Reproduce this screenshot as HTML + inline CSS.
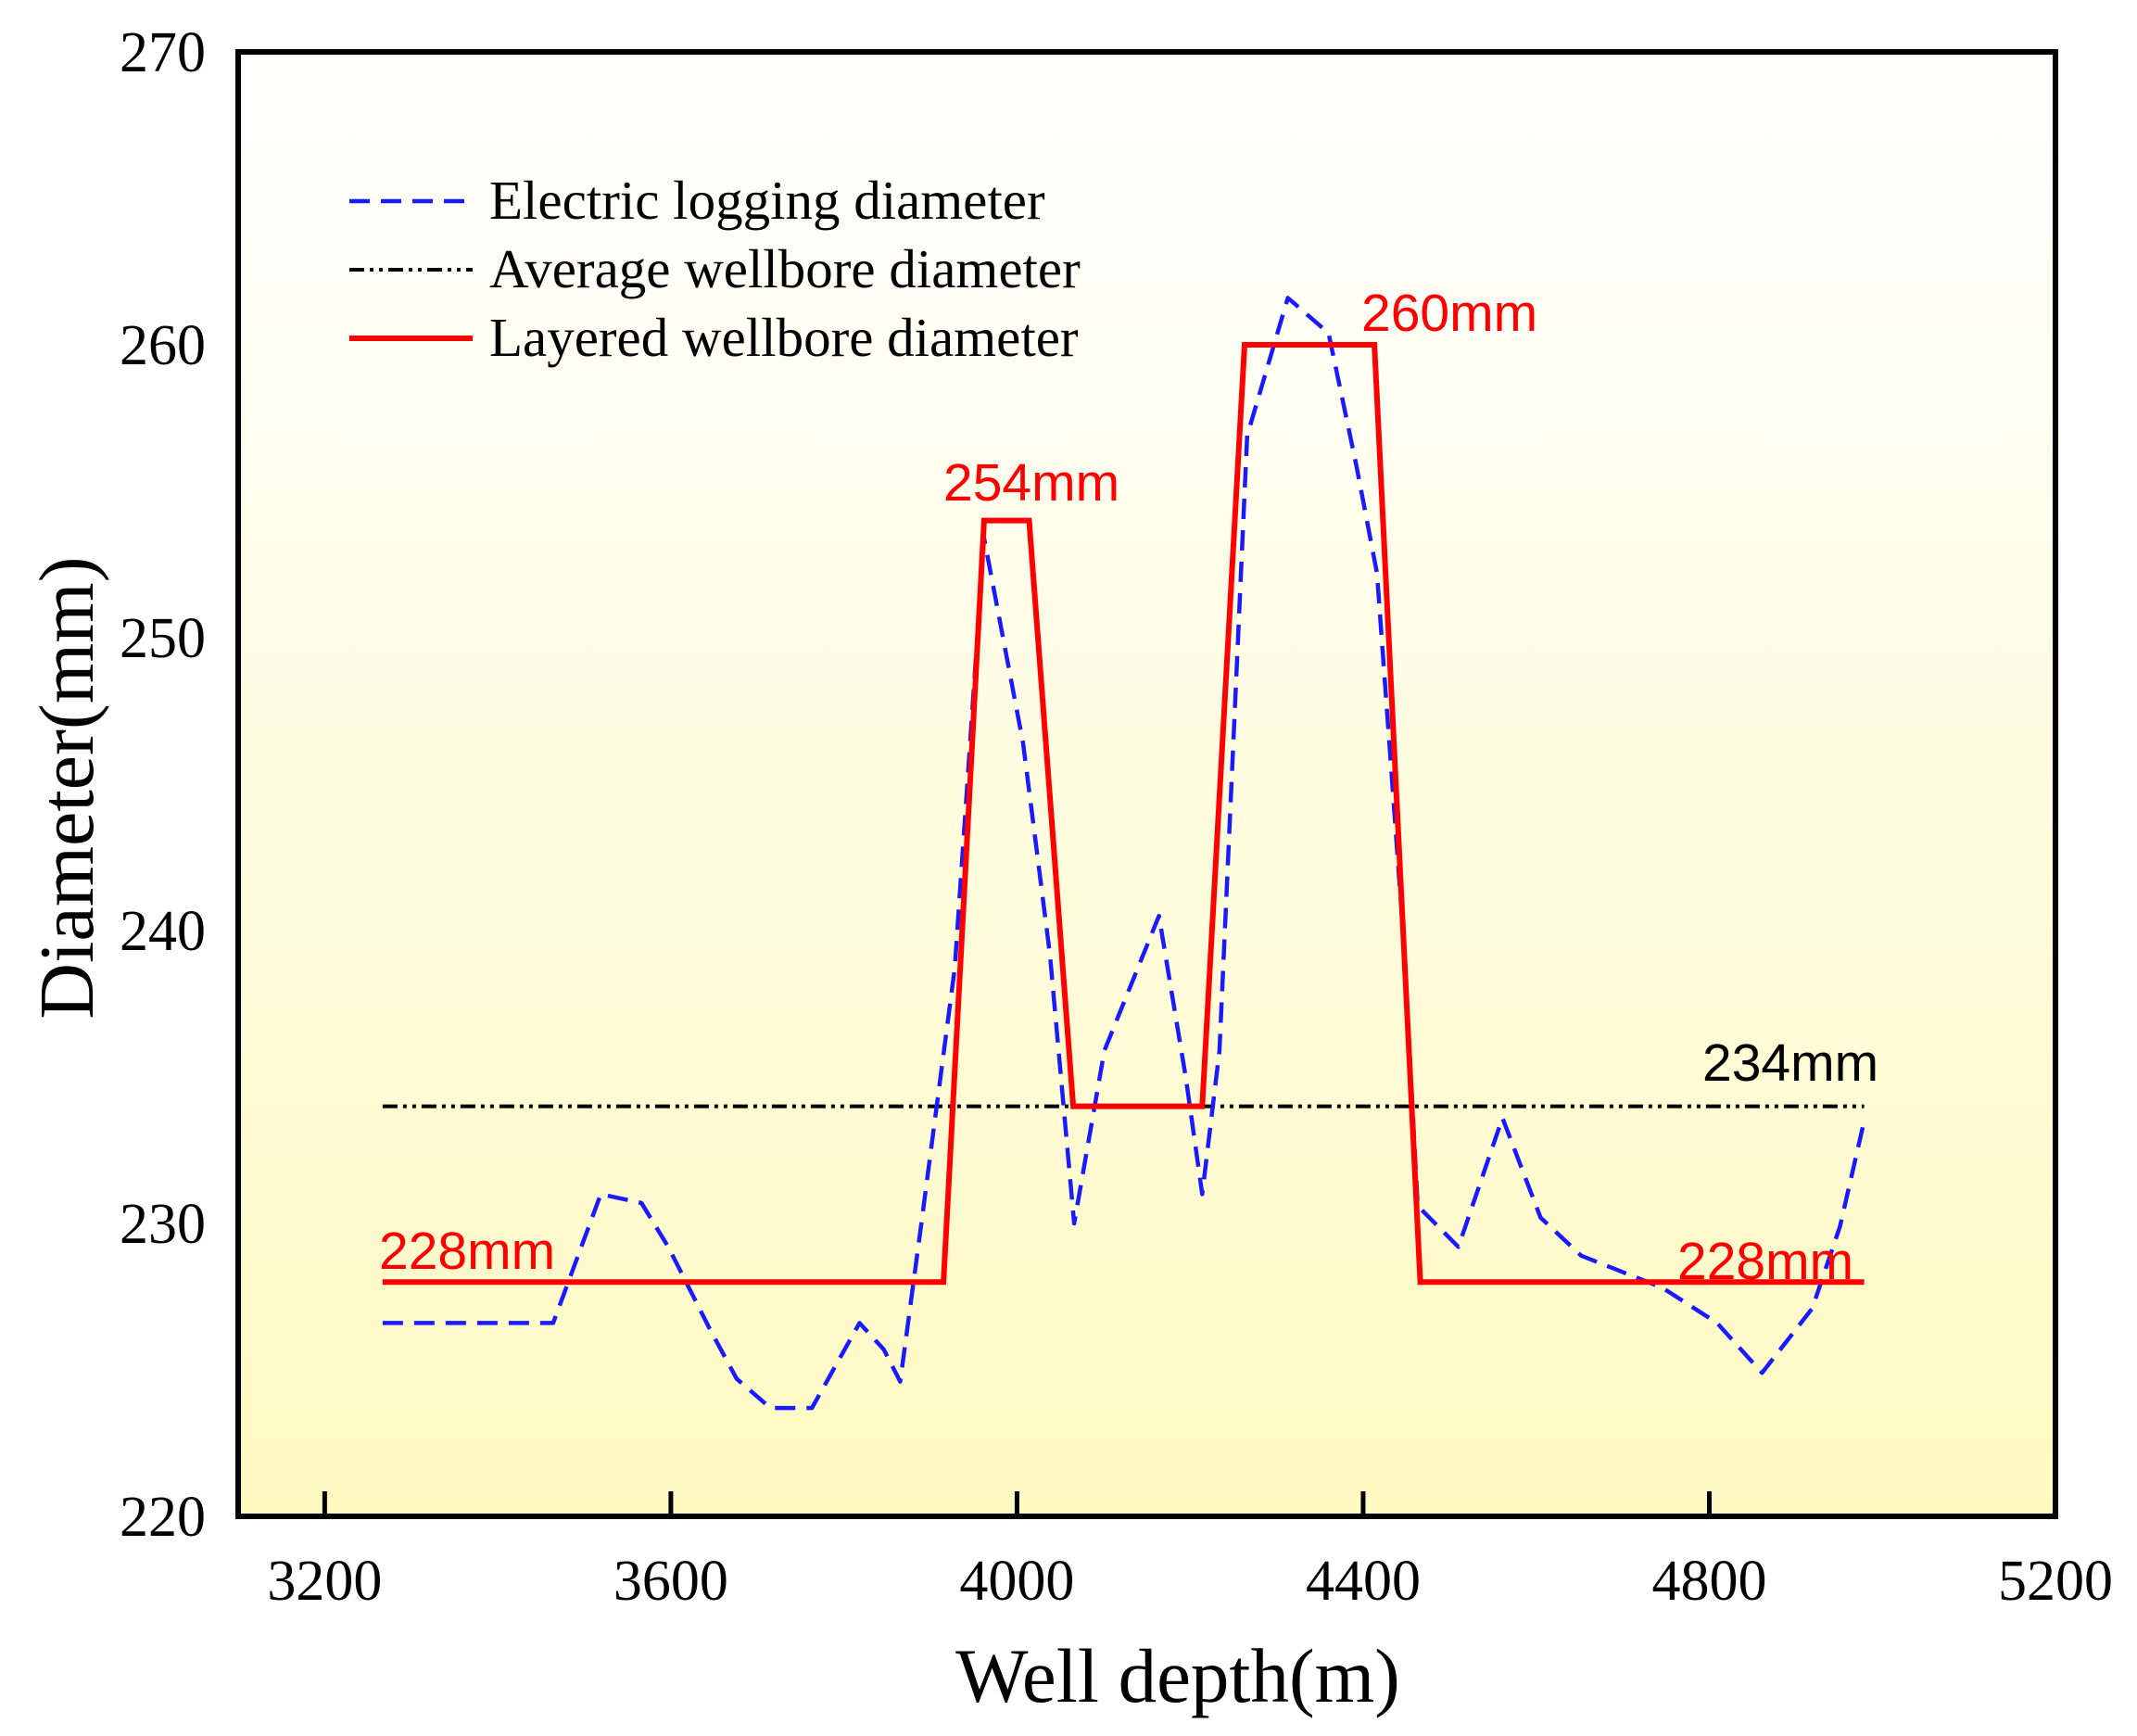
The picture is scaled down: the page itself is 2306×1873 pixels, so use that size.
<!DOCTYPE html>
<html><head><meta charset="utf-8"><style>body{margin:0;background:#fff}svg{display:block}</style></head>
<body>
<svg id="chart" width="2306" height="1873" viewBox="0 0 2306 1873" xmlns="http://www.w3.org/2000/svg">
<defs><linearGradient id="bg" x1="0" y1="0" x2="0" y2="1"><stop offset="0" stop-color="#ffffff"/><stop offset="1" stop-color="#fff9c2"/></linearGradient></defs>
<rect x="257" y="56" width="1961" height="1580" fill="url(#bg)"/>
<g id="marks"></g>
<rect x="257" y="56" width="1961" height="1580" fill="none" stroke="#000" stroke-width="6"/>
<g font-family="Liberation Serif, serif" font-size="59">
<line x1="377" y1="217" x2="510" y2="217" stroke="#1a1aff" stroke-width="4.5" stroke-dasharray="22,12"/>
<text x="528" y="236">Electric logging diameter</text>
<line x1="377" y1="291" x2="510" y2="291" stroke="#000" stroke-width="4" stroke-dasharray="16,6,4,6,4,6"/>
<text x="528" y="310">Average wellbore diameter</text>
<line x1="377" y1="365" x2="510" y2="365" stroke="#ff0000" stroke-width="6"/>
<text x="528" y="384">Layered wellbore diameter</text>
</g>
<g font-family="Liberation Sans, sans-serif" font-size="57">
<text x="1469" y="357" fill="#f00">260mm</text>
<text x="1018" y="540" fill="#f00">254mm</text>
<text x="1837" y="1166" fill="#000">234mm</text>
<text x="409" y="1369" fill="#f00">228mm</text>
<text x="1810" y="1380" fill="#f00">228mm</text>
</g>
<text transform="translate(100,850) rotate(-90)" text-anchor="middle" font-family="Liberation Serif, serif" font-size="84">Diameter(mm)</text>
<text x="1271" y="1836" text-anchor="middle" font-family="Liberation Serif, serif" font-size="83">Well depth(m)</text>
</svg>
<script>
const xTicks=[3200,3600,4000,4400,4800,5200];
const yTicks=[220,230,240,250,260,270];
const electricDepth=[3267,3464,3519,3566,3597,3645,3676,3715,3763,3818,3846,3865,3889,3928,3962,4007,4038,4066,4101,4164,4195,4214,4234,4266,4313,4360,4392,4416,4447,4463,4510,4561,4605,4652,4746,4809,4861,4919,4951,4979];
const electricDiam=[226.6,226.6,231.0,230.7,229.2,226.4,224.7,223.7,223.7,226.6,225.7,224.6,229.9,238.7,253.4,246.4,239.2,230.0,235.9,240.5,235.0,231.0,235.9,256.9,261.6,260.4,255.9,252.2,239.6,230.6,229.2,233.6,230.2,228.9,227.8,226.6,224.9,227.1,229.9,233.5];
const layeredDepth=[3267,3915,3962,4014,4065,4214,4263,4413,4466,4979];
const layeredDiam=[228,228,254,254,234,234,260,260,228,228];
const avgDepth=[3267,4979];
const avgDiam=[234,234];
const X0=257,X1=2218,Y0=56,Y1=1636,XMIN=3100,XMAX=5200,YMIN=220,YMAX=270;
const sx=v=>X0+(v-XMIN)/(XMAX-XMIN)*(X1-X0);
const sy=v=>Y1-(v-YMIN)/(YMAX-YMIN)*(Y1-Y0);
const NS='http://www.w3.org/2000/svg';
const g=document.getElementById('marks');
function mk(t,a){const e=document.createElementNS(NS,t);for(const k in a)e.setAttribute(k,a[k]);g.appendChild(e);return e;}
function pts(xs,ys){return xs.map((x,i)=>sx(x).toFixed(1)+','+sy(ys[i]).toFixed(1)).join(' ');}
xTicks.forEach(t=>{
  const l=mk('line',{x1:sx(t),x2:sx(t),y1:Y1,y2:Y1-27,stroke:'#000','stroke-width':5});
  
  
  const tx=mk('text',{x:sx(t),y:1726,'text-anchor':'middle','font-family':'Liberation Serif, serif','font-size':62});
  tx.textContent=t;
  
  
});
yTicks.forEach(t=>{
  const tx=mk('text',{x:222,y:sy(t)+21,'text-anchor':'end','font-family':'Liberation Serif, serif','font-size':62});
  tx.textContent=t;
  
  
});
const avg=mk('polyline',{points:pts(avgDepth,avgDiam),fill:'none',stroke:'#000','stroke-width':4,'stroke-dasharray':'16,6,4,6,4,6'});


const el=mk('polyline',{points:pts(electricDepth,electricDiam),fill:'none',stroke:'#1a1aff','stroke-width':4.5,'stroke-dasharray':'22,12','stroke-linejoin':'round'});


const lay=mk('polyline',{points:pts(layeredDepth,layeredDiam),fill:'none',stroke:'#ff0000','stroke-width':6,'stroke-linejoin':'miter'});


</script>
</body></html>
